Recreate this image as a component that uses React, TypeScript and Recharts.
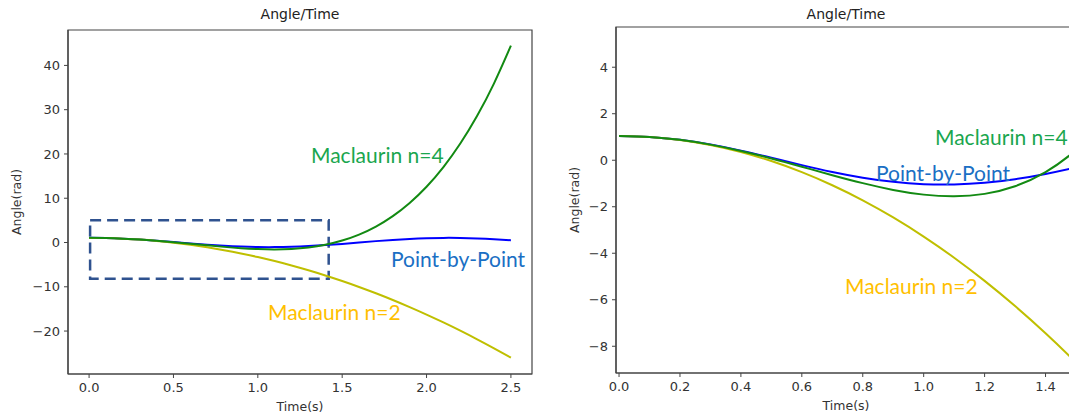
import React from 'react';
import { LineChart, Line, XAxis, YAxis, ReferenceArea } from 'recharts';

// Time samples (s)
const time = [0, 0.1, 0.2, 0.3, 0.4, 0.5, 0.6, 0.7, 0.8, 0.9, 1.0, 1.1, 1.2, 1.3, 1.4, 1.5, 1.6, 1.7, 1.8, 1.9, 2.0, 2.1, 2.2, 2.3, 2.4, 2.5];

// Angle (rad)
const pointByPoint = [1.047, 1.004, 0.877, 0.674, 0.409, 0.104, -0.21, -0.504, -0.75, -0.929, -1.028, -1.042, -0.97, -0.816, -0.59, -0.309, 0.002, 0.313, 0.594, 0.819, 0.972, 1.043, 1.027, 0.927, 0.747, 0.5];
const maclaurin2 = [1.047, 1.004, 0.874, 0.657, 0.354, -0.035, -0.512, -1.075, -1.724, -2.46, -3.283, -4.192, -5.188, -6.271, -7.44, -8.696, -10.038, -11.467, -12.982, -14.584, -16.273, -18.048, -19.91, -21.859, -23.894, -26.016];
const maclaurin4 = [1.047, 1.004, 0.877, 0.672, 0.4, 0.078, -0.278, -0.642, -0.985, -1.276, -1.479, -1.551, -1.447, -1.119, -0.51, 0.437, 1.785, 3.6, 5.956, 8.926, 12.591, 17.036, 22.35, 28.624, 35.958, 44.453];

// Axis ticks
const leftXTicks = [0, 0.5, 1.0, 1.5, 2.0, 2.5];
const leftYTicks = [-20, -10, 0, 10, 20, 30, 40];
const rightXTicks = [0, 0.2, 0.4, 0.6, 0.8, 1.0, 1.2, 1.4];
const rightYTicks = [-8, -6, -4, -2, 0, 2, 4];

// Zoom box drawn on the left panel
const zoomBox = { x1: 0.006, x2: 1.42, y1: -8.2, y2: 5 };

const data = time.map((t, i) => ({ t, pbp: pointByPoint[i], m2: maclaurin2[i], m4: maclaurin4[i] }));

const fmtNum = (v: number) => (v < 0 ? '\u2212' + String(Math.abs(v)) : String(v));
const fmtX = (v: number) => v.toFixed(1);

const AXIS = '#444';
const TICK_TEXT = { fill: '#333', fontSize: 13, fontFamily: 'DejaVu Sans' };
const LABEL_TEXT = { fill: '#333', fontSize: 12.5, fontFamily: 'DejaVu Sans' };

type PanelProps = {
  width: number;
  height: number;
  margin: { top: number; right: number; bottom: number; left: number };
  yAxisWidth: number;
  xDomain: [number, number];
  yDomain: [number, number];
  xTicks: number[];
  yTicks: number[];
  yLabelOffset: number;
  showBox: boolean;
};

function Panel(p: PanelProps) {
  return (
    <LineChart width={p.width} height={p.height} data={data} margin={p.margin}>
      <XAxis
        dataKey="t"
        type="number"
        domain={p.xDomain}
        ticks={p.xTicks}
        allowDataOverflow
        tickFormatter={fmtX}
        tick={TICK_TEXT}
        tickSize={4}
        tickMargin={5}
        height={40}
        axisLine={{ stroke: AXIS, strokeWidth: 1.2 }}
        tickLine={{ stroke: AXIS }}
        label={{ value: 'Time(s)', position: 'insideBottom', offset: 3, style: LABEL_TEXT }}
      />
      <YAxis
        type="number"
        domain={p.yDomain}
        ticks={p.yTicks}
        allowDataOverflow
        tickFormatter={fmtNum}
        tick={TICK_TEXT}
        tickSize={4}
        tickMargin={4}
        width={p.yAxisWidth}
        axisLine={{ stroke: AXIS, strokeWidth: 1.2 }}
        tickLine={{ stroke: AXIS }}
        label={{ value: 'Angle(rad)', angle: -90, position: 'insideLeft', offset: p.yLabelOffset, style: { ...LABEL_TEXT, textAnchor: 'middle' } }}
      />
      <ReferenceArea
        x1={p.xDomain[0]}
        x2={p.xDomain[1]}
        y1={p.yDomain[0]}
        y2={p.yDomain[1]}
        fill="none"
        stroke={AXIS}
        strokeWidth={1.2}
        ifOverflow="visible"
      />
      <Line type="natural" dataKey="pbp" stroke="#0000ff" strokeWidth={2} dot={false} activeDot={false} isAnimationActive={false} />
      <Line type="natural" dataKey="m2" stroke="#bfbf00" strokeWidth={2} dot={false} activeDot={false} isAnimationActive={false} />
      <Line type="natural" dataKey="m4" stroke="#128a12" strokeWidth={2} dot={false} activeDot={false} isAnimationActive={false} />
      {p.showBox && (
        <ReferenceArea
          x1={zoomBox.x1}
          x2={zoomBox.x2}
          y1={zoomBox.y1}
          y2={zoomBox.y2}
          fill="none"
          fillOpacity={0}
          stroke="#2f528f"
          strokeWidth={2.5}
          strokeDasharray="11 6"
          ifOverflow="visible"
        />
      )}
    </LineChart>
  );
}

const annoFont = 'Lato, "Noto Sans", sans-serif';
const annoStyle = (left: number, cy: number, color: string): React.CSSProperties => ({
  position: 'absolute',
  left,
  top: cy - 12,
  fontSize: 21,
  lineHeight: '24px',
  fontFamily: annoFont,
  color,
  whiteSpace: 'nowrap',
});

const titleStyle = (cx: number): React.CSSProperties => ({
  position: 'absolute',
  left: cx - 70,
  width: 140,
  top: 6,
  textAlign: 'center',
  fontSize: 14,
  lineHeight: '17px',
  fontFamily: 'DejaVu Sans',
  color: '#222',
});

const GREEN = '#1aa64e';
const BLUE = '#1a6fc4';
const YELLOW = '#ffc000';

export default function App() {
  return (
    <div style={{ position: 'fixed', left: 0, top: 0, width: 1069, height: 414, overflow: 'hidden', background: '#fff' }}>
      <div style={{ position: 'absolute', left: 0, top: 0 }}>
        <Panel
          width={540}
          height={414}
          margin={{ top: 30, right: 8, bottom: 0, left: 0 }}
          yAxisWidth={68}
          xDomain={[-0.125, 2.625]}
          yDomain={[-29.7, 48]}
          xTicks={leftXTicks}
          yTicks={leftYTicks}
          yLabelOffset={17}
          showBox
        />
      </div>
      <div style={{ position: 'absolute', left: 540, top: 0 }}>
        <Panel
          width={560}
          height={414}
          margin={{ top: 27, right: 24, bottom: 1, left: 0 }}
          yAxisWidth={76}
          xDomain={[-0.01, 1.5]}
          yDomain={[-9.15, 5.73]}
          xTicks={rightXTicks}
          yTicks={rightYTicks}
          yLabelOffset={35}
          showBox={false}
        />
      </div>
      <div style={titleStyle(300)}>Angle/Time</div>
      <div style={titleStyle(846)}>Angle/Time</div>

      <div style={annoStyle(311, 155, GREEN)}>Maclaurin n=4</div>
      <div style={annoStyle(391, 259, BLUE)}>Point-by-Point</div>
      <div style={annoStyle(268, 312, YELLOW)}>Maclaurin n=2</div>

      <div style={annoStyle(935, 137, GREEN)}>Maclaurin n=4</div>
      <div style={annoStyle(876, 173, BLUE)}>Point-by-Point</div>
      <div style={annoStyle(845, 286, YELLOW)}>Maclaurin n=2</div>
    </div>
  );
}
